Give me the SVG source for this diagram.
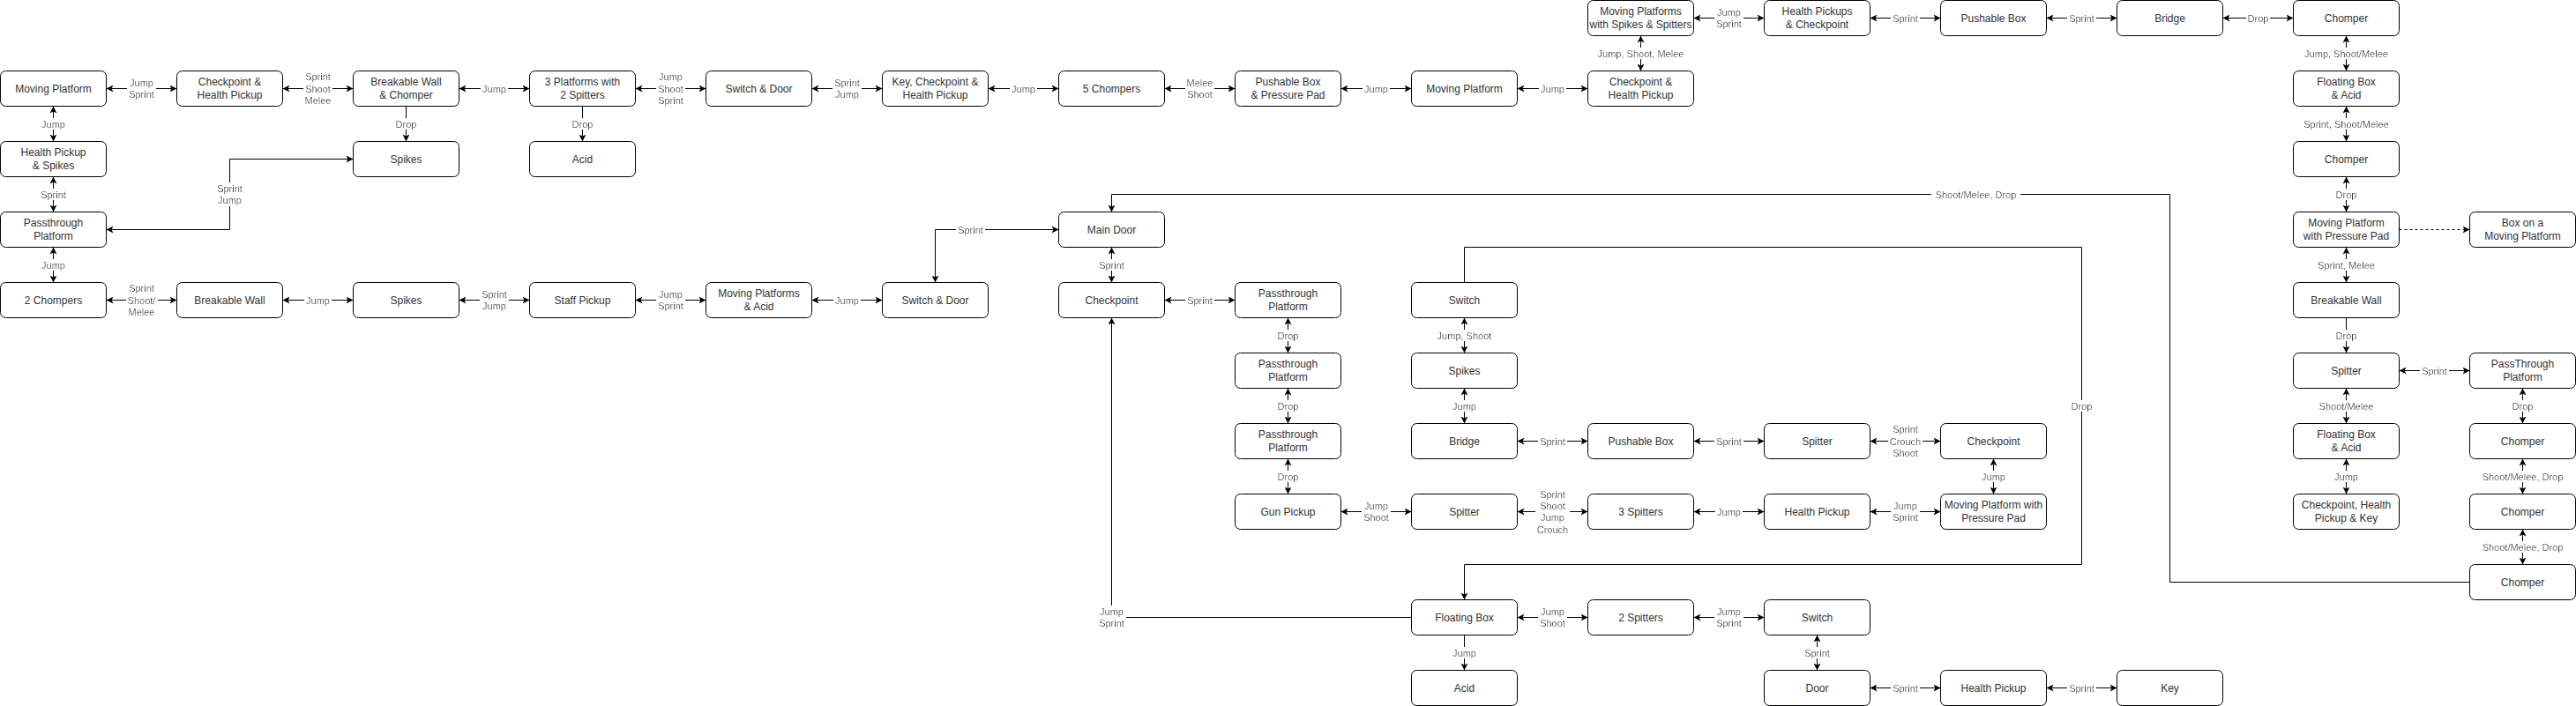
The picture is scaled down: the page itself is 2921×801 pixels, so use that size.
<svg xmlns="http://www.w3.org/2000/svg" width="2921" height="801" viewBox="0 0 2921 801">
<defs>
<style>
.n rect{fill:#fff;stroke:#000;stroke-width:1}
.n text{font-family:"Liberation Sans",Arial,Helvetica,sans-serif;font-size:12px;fill:#333;text-anchor:middle;dominant-baseline:central}
.e path{fill:none;stroke:#000;stroke-width:1}
.e .b{marker-start:url(#ah);marker-end:url(#ah)}
.e .s{marker-end:url(#ah)}
.e .d{stroke-dasharray:3 3}
.e text{font-family:"Liberation Sans",Arial,Helvetica,sans-serif;font-size:11px;fill:#333;text-anchor:middle;dominant-baseline:central;filter:url(#bg)}
</style>
<marker id="ah" viewBox="0 0 8 8" refX="8" refY="4" markerWidth="8" markerHeight="8" markerUnits="userSpaceOnUse" orient="auto-start-reverse">
<path d="M0,0 L8,4 L0,8 L2,4 Z" fill="#000"/>
</marker>
<filter id="bg" x="-0.04" y="-0.02" width="1.08" height="1.04">
<feFlood flood-color="#fff" result="f"/>
<feMerge><feMergeNode in="f"/><feMergeNode in="SourceGraphic"/></feMerge>
</filter>
</defs>
<rect x="0" y="0" width="2921" height="801" fill="#fff"/>
<g transform="translate(0.5,0.5)">
<g id="connectors" class="e">
<g><path class="b" d="M120,100 H200"/><text x="160"><tspan x="160" y="93.35">Jump</tspan><tspan x="160" y="106.65">Sprint</tspan></text></g>
<g><path class="b" d="M320,100 H400"/><text x="360"><tspan x="360" y="86.7">Sprint</tspan><tspan x="360" y="100">Shoot</tspan><tspan x="360" y="113.3">Melee</tspan></text></g>
<g><path class="b" d="M520,100 H600"/><text x="560" y="100">Jump</text></g>
<g><path class="b" d="M720,100 H800"/><text x="760"><tspan x="760" y="86.7">Jump</tspan><tspan x="760" y="100">Shoot</tspan><tspan x="760" y="113.3">Sprint</tspan></text></g>
<g><path class="b" d="M920,100 H1000"/><text x="960"><tspan x="960" y="93.35">Sprint</tspan><tspan x="960" y="106.65">Jump</tspan></text></g>
<g><path class="b" d="M1120,100 H1200"/><text x="1160" y="100">Jump</text></g>
<g><path class="b" d="M1320,100 H1400"/><text x="1360"><tspan x="1360" y="93.35">Melee</tspan><tspan x="1360" y="106.65">Shoot</tspan></text></g>
<g><path class="b" d="M1520,100 H1600"/><text x="1560" y="100">Jump</text></g>
<g><path class="b" d="M1720,100 H1800"/><text x="1760" y="100">Jump</text></g>
<g><path class="b" d="M1860,40 V80"/><text x="1860" y="60">Jump, Shoot, Melee</text></g>
<g><path class="b" d="M1920,20 H2000"/><text x="1960"><tspan x="1960" y="13.35">Jump</tspan><tspan x="1960" y="26.65">Sprint</tspan></text></g>
<g><path class="b" d="M2120,20 H2200"/><text x="2160" y="20">Sprint</text></g>
<g><path class="b" d="M2320,20 H2400"/><text x="2360" y="20">Sprint</text></g>
<g><path class="b" d="M2520,20 H2600"/><text x="2560" y="20">Drop</text></g>
<g><path class="b" d="M2660,40 V80"/><text x="2660" y="60">Jump, Shoot/Melee</text></g>
<g><path class="b" d="M2660,120 V160"/><text x="2660" y="140">Sprint, Shoot/Melee</text></g>
<g><path class="b" d="M2660,200 V240"/><text x="2660" y="220">Drop</text></g>
<g><path class="s d" d="M2720,260 H2800"/></g>
<g><path class="b" d="M2660,280 V320"/><text x="2660" y="300">Sprint, Melee</text></g>
<g><path class="s" d="M2660,360 V400"/><text x="2660" y="380">Drop</text></g>
<g><path class="b" d="M2720,420 H2800"/><text x="2760" y="420">Sprint</text></g>
<g><path class="b" d="M2660,440 V480"/><text x="2660" y="460">Shoot/Melee</text></g>
<g><path class="b" d="M2660,520 V560"/><text x="2660" y="540">Jump</text></g>
<g><path class="b" d="M2860,440 V480"/><text x="2860" y="460">Drop</text></g>
<g><path class="b" d="M2860,520 V560"/><text x="2860" y="540">Shoot/Melee, Drop</text></g>
<g><path class="b" d="M2860,600 V640"/><text x="2860" y="620">Shoot/Melee, Drop</text></g>
<g><path class="s" d="M2800,660 H2460 V220 H1260 V240"/><text x="2240" y="220">Shoot/Melee, Drop</text></g>
<g><path class="b" d="M60,120 V160"/><text x="60" y="140">Jump</text></g>
<g><path class="b" d="M60,200 V240"/><text x="60" y="220">Sprint</text></g>
<g><path class="b" d="M60,280 V320"/><text x="60" y="300">Jump</text></g>
<g><path class="s" d="M460,120 V160"/><text x="460" y="140">Drop</text></g>
<g><path class="s" d="M660,120 V160"/><text x="660" y="140">Drop</text></g>
<g><path class="b" d="M120,260 H260 V180 H400"/><text x="260"><tspan x="260" y="213.35">Sprint</tspan><tspan x="260" y="226.65">Jump</tspan></text></g>
<g><path class="b" d="M120,340 H200"/><text x="160"><tspan x="160" y="326.7">Sprint</tspan><tspan x="160" y="340">Shoot/</tspan><tspan x="160" y="353.3">Melee</tspan></text></g>
<g><path class="b" d="M320,340 H400"/><text x="360" y="340">Jump</text></g>
<g><path class="b" d="M520,340 H600"/><text x="560"><tspan x="560" y="333.35">Sprint</tspan><tspan x="560" y="346.65">Jump</tspan></text></g>
<g><path class="b" d="M720,340 H800"/><text x="760"><tspan x="760" y="333.35">Jump</tspan><tspan x="760" y="346.65">Sprint</tspan></text></g>
<g><path class="b" d="M920,340 H1000"/><text x="960" y="340">Jump</text></g>
<g><path class="b" d="M1060,320 V260 H1200"/><text x="1100" y="260">Sprint</text></g>
<g><path class="b" d="M1260,280 V320"/><text x="1260" y="300">Sprint</text></g>
<g><path class="b" d="M1320,340 H1400"/><text x="1360" y="340">Sprint</text></g>
<g><path class="b" d="M1460,360 V400"/><text x="1460" y="380">Drop</text></g>
<g><path class="b" d="M1460,440 V480"/><text x="1460" y="460">Drop</text></g>
<g><path class="b" d="M1460,520 V560"/><text x="1460" y="540">Drop</text></g>
<g><path class="b" d="M1520,580 H1600"/><text x="1560"><tspan x="1560" y="573.35">Jump</tspan><tspan x="1560" y="586.65">Shoot</tspan></text></g>
<g><path class="b" d="M1720,580 H1800"/><text x="1760"><tspan x="1760" y="560">Sprint</tspan><tspan x="1760" y="573.35">Shoot</tspan><tspan x="1760" y="586.65">Jump</tspan><tspan x="1760" y="600">Crouch</tspan></text></g>
<g><path class="b" d="M1920,580 H2000"/><text x="1960" y="580">Jump</text></g>
<g><path class="b" d="M2120,580 H2200"/><text x="2160"><tspan x="2160" y="573.35">Jump</tspan><tspan x="2160" y="586.65">Sprint</tspan></text></g>
<g><path class="b" d="M2260,520 V560"/><text x="2260" y="540">Jump</text></g>
<g><path class="b" d="M2120,500 H2200"/><text x="2160"><tspan x="2160" y="486.7">Sprint</tspan><tspan x="2160" y="500">Crouch</tspan><tspan x="2160" y="513.3">Shoot</tspan></text></g>
<g><path class="b" d="M1920,500 H2000"/><text x="1960" y="500">Sprint</text></g>
<g><path class="b" d="M1720,500 H1800"/><text x="1760" y="500">Sprint</text></g>
<g><path class="b" d="M1660,440 V480"/><text x="1660" y="460">Jump</text></g>
<g><path class="b" d="M1660,360 V400"/><text x="1660" y="380">Jump, Shoot</text></g>
<g><path class="s" d="M1660,320 V280 H2360 V640 H1660 V680"/><text x="2360" y="460">Drop</text></g>
<g><path class="s" d="M1600,700 H1260 V360"/><text x="1260"><tspan x="1260" y="693.35">Jump</tspan><tspan x="1260" y="706.65">Sprint</tspan></text></g>
<g><path class="b" d="M1720,700 H1800"/><text x="1760"><tspan x="1760" y="693.35">Jump</tspan><tspan x="1760" y="706.65">Shoot</tspan></text></g>
<g><path class="b" d="M1920,700 H2000"/><text x="1960"><tspan x="1960" y="693.35">Jump</tspan><tspan x="1960" y="706.65">Sprint</tspan></text></g>
<g><path class="b" d="M2060,720 V760"/><text x="2060" y="740">Sprint</text></g>
<g><path class="b" d="M2120,780 H2200"/><text x="2160" y="780">Sprint</text></g>
<g><path class="b" d="M2320,780 H2400"/><text x="2360" y="780">Sprint</text></g>
<g><path class="s" d="M1660,720 V760"/><text x="1660" y="740">Jump</text></g>
</g>
<g id="n_mpss" class="n"><rect x="1800" y="0" width="120" height="40" rx="6"/><text><tspan x="1860" y="12.75">Moving Platforms</tspan><tspan x="1860" y="27.25">with Spikes &amp; Spitters</tspan></text></g>
<g id="n_hpc" class="n"><rect x="2000" y="0" width="120" height="40" rx="6"/><text><tspan x="2060" y="12.75">Health Pickups</tspan><tspan x="2060" y="27.25">&amp; Checkpoint</tspan></text></g>
<g id="n_pb1" class="n"><rect x="2200" y="0" width="120" height="40" rx="6"/><text x="2260" y="20">Pushable Box</text></g>
<g id="n_bridge1" class="n"><rect x="2400" y="0" width="120" height="40" rx="6"/><text x="2460" y="20">Bridge</text></g>
<g id="n_chomp1" class="n"><rect x="2600" y="0" width="120" height="40" rx="6"/><text x="2660" y="20">Chomper</text></g>
<g id="n_mp1" class="n"><rect x="0" y="80" width="120" height="40" rx="6"/><text x="60" y="100">Moving Platform</text></g>
<g id="n_chp1" class="n"><rect x="200" y="80" width="120" height="40" rx="6"/><text><tspan x="260" y="92.75">Checkpoint &amp;</tspan><tspan x="260" y="107.25">Health Pickup</tspan></text></g>
<g id="n_bwc" class="n"><rect x="400" y="80" width="120" height="40" rx="6"/><text><tspan x="460" y="92.75">Breakable Wall</tspan><tspan x="460" y="107.25">&amp; Chomper</tspan></text></g>
<g id="n_3p" class="n"><rect x="600" y="80" width="120" height="40" rx="6"/><text><tspan x="660" y="92.75">3 Platforms with</tspan><tspan x="660" y="107.25">2 Spitters</tspan></text></g>
<g id="n_sd1" class="n"><rect x="800" y="80" width="120" height="40" rx="6"/><text x="860" y="100">Switch &amp; Door</text></g>
<g id="n_kch" class="n"><rect x="1000" y="80" width="120" height="40" rx="6"/><text><tspan x="1060" y="92.75">Key, Checkpoint &amp;</tspan><tspan x="1060" y="107.25">Health Pickup</tspan></text></g>
<g id="n_5c" class="n"><rect x="1200" y="80" width="120" height="40" rx="6"/><text x="1260" y="100">5 Chompers</text></g>
<g id="n_pbpp" class="n"><rect x="1400" y="80" width="120" height="40" rx="6"/><text><tspan x="1460" y="92.75">Pushable Box</tspan><tspan x="1460" y="107.25">&amp; Pressure Pad</tspan></text></g>
<g id="n_mp2" class="n"><rect x="1600" y="80" width="120" height="40" rx="6"/><text x="1660" y="100">Moving Platform</text></g>
<g id="n_chp2" class="n"><rect x="1800" y="80" width="120" height="40" rx="6"/><text><tspan x="1860" y="92.75">Checkpoint &amp;</tspan><tspan x="1860" y="107.25">Health Pickup</tspan></text></g>
<g id="n_fba1" class="n"><rect x="2600" y="80" width="120" height="40" rx="6"/><text><tspan x="2660" y="92.75">Floating Box</tspan><tspan x="2660" y="107.25">&amp; Acid</tspan></text></g>
<g id="n_hps" class="n"><rect x="0" y="160" width="120" height="40" rx="6"/><text><tspan x="60" y="172.75">Health Pickup</tspan><tspan x="60" y="187.25">&amp; Spikes</tspan></text></g>
<g id="n_spikes1" class="n"><rect x="400" y="160" width="120" height="40" rx="6"/><text x="460" y="180">Spikes</text></g>
<g id="n_acid1" class="n"><rect x="600" y="160" width="120" height="40" rx="6"/><text x="660" y="180">Acid</text></g>
<g id="n_chomp2" class="n"><rect x="2600" y="160" width="120" height="40" rx="6"/><text x="2660" y="180">Chomper</text></g>
<g id="n_pt1" class="n"><rect x="0" y="240" width="120" height="40" rx="6"/><text><tspan x="60" y="252.75">Passthrough</tspan><tspan x="60" y="267.25">Platform</tspan></text></g>
<g id="n_maindoor" class="n"><rect x="1200" y="240" width="120" height="40" rx="6"/><text x="1260" y="260">Main Door</text></g>
<g id="n_mppp1" class="n"><rect x="2600" y="240" width="120" height="40" rx="6"/><text><tspan x="2660" y="252.75">Moving Platform</tspan><tspan x="2660" y="267.25">with Pressure Pad</tspan></text></g>
<g id="n_box" class="n"><rect x="2800" y="240" width="120" height="40" rx="6"/><text><tspan x="2860" y="252.75">Box on a</tspan><tspan x="2860" y="267.25">Moving Platform</tspan></text></g>
<g id="n_2c" class="n"><rect x="0" y="320" width="120" height="40" rx="6"/><text x="60" y="340">2 Chompers</text></g>
<g id="n_bw1" class="n"><rect x="200" y="320" width="120" height="40" rx="6"/><text x="260" y="340">Breakable Wall</text></g>
<g id="n_spikes2" class="n"><rect x="400" y="320" width="120" height="40" rx="6"/><text x="460" y="340">Spikes</text></g>
<g id="n_staff" class="n"><rect x="600" y="320" width="120" height="40" rx="6"/><text x="660" y="340">Staff Pickup</text></g>
<g id="n_mpa" class="n"><rect x="800" y="320" width="120" height="40" rx="6"/><text><tspan x="860" y="332.75">Moving Platforms</tspan><tspan x="860" y="347.25">&amp; Acid</tspan></text></g>
<g id="n_sd2" class="n"><rect x="1000" y="320" width="120" height="40" rx="6"/><text x="1060" y="340">Switch &amp; Door</text></g>
<g id="n_cp1" class="n"><rect x="1200" y="320" width="120" height="40" rx="6"/><text x="1260" y="340">Checkpoint</text></g>
<g id="n_pt2" class="n"><rect x="1400" y="320" width="120" height="40" rx="6"/><text><tspan x="1460" y="332.75">Passthrough</tspan><tspan x="1460" y="347.25">Platform</tspan></text></g>
<g id="n_switch1" class="n"><rect x="1600" y="320" width="120" height="40" rx="6"/><text x="1660" y="340">Switch</text></g>
<g id="n_bw2" class="n"><rect x="2600" y="320" width="120" height="40" rx="6"/><text x="2660" y="340">Breakable Wall</text></g>
<g id="n_pt3" class="n"><rect x="1400" y="400" width="120" height="40" rx="6"/><text><tspan x="1460" y="412.75">Passthrough</tspan><tspan x="1460" y="427.25">Platform</tspan></text></g>
<g id="n_spikes3" class="n"><rect x="1600" y="400" width="120" height="40" rx="6"/><text x="1660" y="420">Spikes</text></g>
<g id="n_spitter1" class="n"><rect x="2600" y="400" width="120" height="40" rx="6"/><text x="2660" y="420">Spitter</text></g>
<g id="n_pt5" class="n"><rect x="2800" y="400" width="120" height="40" rx="6"/><text><tspan x="2860" y="412.75">PassThrough</tspan><tspan x="2860" y="427.25">Platform</tspan></text></g>
<g id="n_pt4" class="n"><rect x="1400" y="480" width="120" height="40" rx="6"/><text><tspan x="1460" y="492.75">Passthrough</tspan><tspan x="1460" y="507.25">Platform</tspan></text></g>
<g id="n_bridge2" class="n"><rect x="1600" y="480" width="120" height="40" rx="6"/><text x="1660" y="500">Bridge</text></g>
<g id="n_pb2" class="n"><rect x="1800" y="480" width="120" height="40" rx="6"/><text x="1860" y="500">Pushable Box</text></g>
<g id="n_spitter2" class="n"><rect x="2000" y="480" width="120" height="40" rx="6"/><text x="2060" y="500">Spitter</text></g>
<g id="n_cp2" class="n"><rect x="2200" y="480" width="120" height="40" rx="6"/><text x="2260" y="500">Checkpoint</text></g>
<g id="n_fba2" class="n"><rect x="2600" y="480" width="120" height="40" rx="6"/><text><tspan x="2660" y="492.75">Floating Box</tspan><tspan x="2660" y="507.25">&amp; Acid</tspan></text></g>
<g id="n_chomp3" class="n"><rect x="2800" y="480" width="120" height="40" rx="6"/><text x="2860" y="500">Chomper</text></g>
<g id="n_gun" class="n"><rect x="1400" y="560" width="120" height="40" rx="6"/><text x="1460" y="580">Gun Pickup</text></g>
<g id="n_spitter3" class="n"><rect x="1600" y="560" width="120" height="40" rx="6"/><text x="1660" y="580">Spitter</text></g>
<g id="n_3s" class="n"><rect x="1800" y="560" width="120" height="40" rx="6"/><text x="1860" y="580">3 Spitters</text></g>
<g id="n_hp1" class="n"><rect x="2000" y="560" width="120" height="40" rx="6"/><text x="2060" y="580">Health Pickup</text></g>
<g id="n_mppp2" class="n"><rect x="2200" y="560" width="120" height="40" rx="6"/><text><tspan x="2260" y="572.75">Moving Platform with</tspan><tspan x="2260" y="587.25">Pressure Pad</tspan></text></g>
<g id="n_chk" class="n"><rect x="2600" y="560" width="120" height="40" rx="6"/><text><tspan x="2660" y="572.75">Checkpoint, Health</tspan><tspan x="2660" y="587.25">Pickup &amp; Key</tspan></text></g>
<g id="n_chomp4" class="n"><rect x="2800" y="560" width="120" height="40" rx="6"/><text x="2860" y="580">Chomper</text></g>
<g id="n_chomp5" class="n"><rect x="2800" y="640" width="120" height="40" rx="6"/><text x="2860" y="660">Chomper</text></g>
<g id="n_fb" class="n"><rect x="1600" y="680" width="120" height="40" rx="6"/><text x="1660" y="700">Floating Box</text></g>
<g id="n_2s" class="n"><rect x="1800" y="680" width="120" height="40" rx="6"/><text x="1860" y="700">2 Spitters</text></g>
<g id="n_switch2" class="n"><rect x="2000" y="680" width="120" height="40" rx="6"/><text x="2060" y="700">Switch</text></g>
<g id="n_acid2" class="n"><rect x="1600" y="760" width="120" height="40" rx="6"/><text x="1660" y="780">Acid</text></g>
<g id="n_door" class="n"><rect x="2000" y="760" width="120" height="40" rx="6"/><text x="2060" y="780">Door</text></g>
<g id="n_hp2" class="n"><rect x="2200" y="760" width="120" height="40" rx="6"/><text x="2260" y="780">Health Pickup</text></g>
<g id="n_key" class="n"><rect x="2400" y="760" width="120" height="40" rx="6"/><text x="2460" y="780">Key</text></g>
</g>
</svg>
